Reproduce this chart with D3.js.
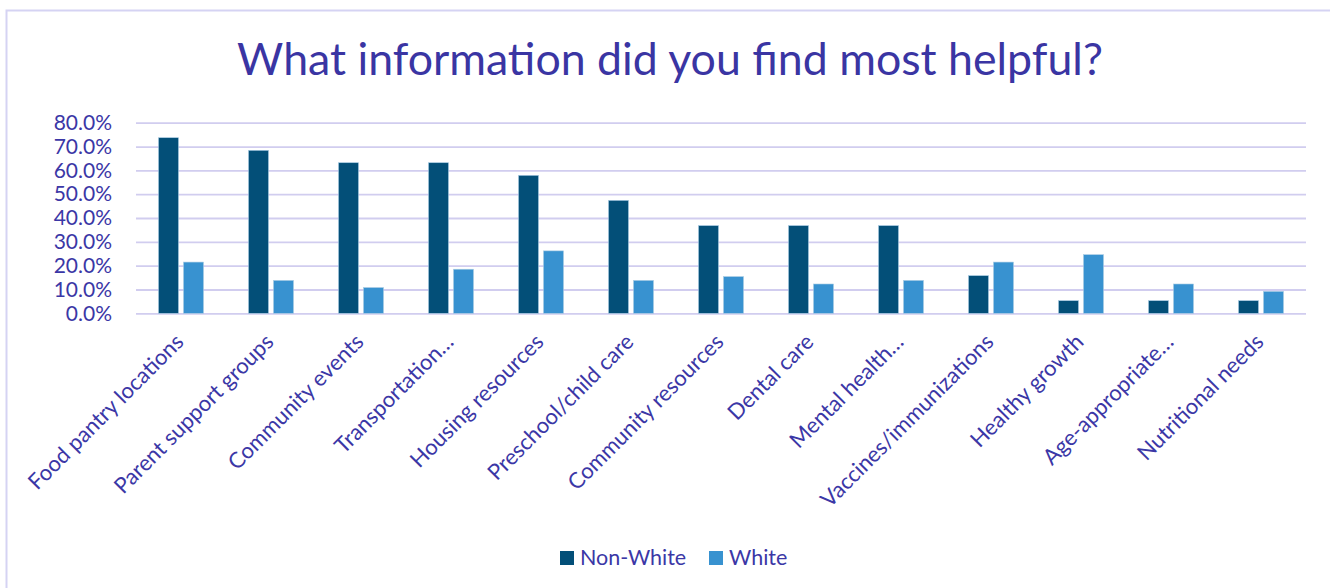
<!DOCTYPE html>
<html>
<head>
<meta charset="utf-8">
<script src="https://cdn.jsdelivr.net/npm/d3@7/dist/d3.min.js"></script>
<style>
  html, body { margin: 0; padding: 0; background: #ffffff; }
  svg { display: block; }
  text { font-family: Lato, "Open Sans", "Liberation Sans", sans-serif; }
</style>
</head>
<body>
<svg id="chart" width="1330" height="588"></svg>
<script>
// Survey answers: share of respondents finding each kind of information helpful
const categories = [
  "Food pantry locations", "Parent support groups", "Community events",
  "Transportation…", "Housing resources", "Preschool/child care",
  "Community resources", "Dental care", "Mental health…",
  "Vaccines/immunizations", "Healthy growth", "Age-appropriate…",
  "Nutritional needs"
];
const seriesNames = ["Non-White", "White"];
const nonWhite = [0.737, 0.684, 0.632, 0.632, 0.579, 0.474, 0.368, 0.368, 0.368, 0.158, 0.053, 0.053, 0.053];
const white    = [0.215, 0.138, 0.108, 0.185, 0.262, 0.138, 0.154, 0.123, 0.138, 0.215, 0.246, 0.123, 0.092];
const yTicks = [0, 0.1, 0.2, 0.3, 0.4, 0.5, 0.6, 0.7, 0.8];
const titleText = "What information did you find most helpful?";

const colors = { "Non-White": "#034f78", "White": "#3892d0" };
const textColor = "#3b37a6";
const gridColor = "#d1cdef";

const svg = d3.select("#chart");

// outer frame of the chart area
svg.append("rect")
  .attr("x", 6.5).attr("y", 10.5)
  .attr("width", 1340).attr("height", 600)
  .attr("fill", "#ffffff")
  .attr("stroke", "#d5d3f3").attr("stroke-width", 2);

const plot = { left: 136, right: 1306, top: 122.7, bottom: 313.3 };

const x0 = d3.scaleBand()
  .domain(categories)
  .range([plot.left, plot.right])
  .paddingInner(0.5)
  .paddingOuter(0.25);

const x1 = d3.scaleBand()
  .domain(seriesNames)
  .range([0, x0.bandwidth()])
  .paddingInner(0.2);

const y = d3.scaleLinear()
  .domain([0, 0.8])
  .range([plot.bottom, plot.top]);

// title
const title = svg.append("text")
  .attr("x", 670).attr("y", 75)
  .attr("text-anchor", "middle")
  .attr("fill", "#3a35a3")
  .attr("font-size", 40)
  .text(titleText);
{
  const w = title.node().getComputedTextLength();
  title.attr("font-size", 40 * 866 / w);
}

// horizontal gridlines + y labels
const yAxis = d3.axisLeft(y)
  .tickValues(yTicks)
  .tickFormat(d3.format(".1%"))
  .tickSize(-(plot.right - plot.left))
  .tickPadding(24);

const gy = svg.append("g")
  .attr("transform", `translate(${plot.left},0)`)
  .call(yAxis);
gy.select(".domain").remove();
gy.selectAll(".tick line")
  .attr("stroke", gridColor)
  .attr("stroke-width", 1.8);
gy.selectAll(".tick text")
  .attr("fill", textColor)
  .attr("font-size", 21)
  .attr("font-family", "Lato, sans-serif");

// bars
const groups = svg.append("g")
  .selectAll("g")
  .data(categories)
  .join("g")
  .attr("transform", d => `translate(${x0(d)},0)`);

groups.selectAll("rect")
  .data((d, i) => [
    { key: "Non-White", value: nonWhite[i] },
    { key: "White", value: white[i] }
  ])
  .join("rect")
  .attr("x", d => x1(d.key))
  .attr("width", x1.bandwidth())
  .attr("y", d => y(d.value))
  .attr("height", d => y(0) - y(d.value))
  .attr("fill", d => colors[d.key])
  .attr("stroke", "#a9cbe3")
  .attr("stroke-width", 0.6);

// category labels, rotated
const xAxis = d3.axisBottom(x0).tickSize(0).tickPadding(0);
const gx = svg.append("g")
  .attr("transform", `translate(0,${plot.bottom})`)
  .call(xAxis);
gx.select(".domain").remove();
gx.selectAll(".tick text")
  .attr("fill", textColor)
  .attr("font-size", 22)
  .attr("font-family", "Lato, sans-serif")
  .attr("text-anchor", "end")
  .attr("dy", "0")
  .attr("transform", "translate(4,30) rotate(-45)");

// legend
const legend = svg.append("g").attr("transform", "translate(560,551)");
const legendX = [0, 149];
seriesNames.forEach((name, i) => {
  const g = legend.append("g").attr("transform", `translate(${legendX[i]},0)`);
  g.append("rect")
    .attr("width", 14).attr("height", 14)
    .attr("fill", colors[name]);
  g.append("text")
    .attr("x", 20).attr("y", 14)
    .attr("fill", textColor)
    .attr("font-size", 21.5)
    .text(name);
});
</script>
</body>
</html>
